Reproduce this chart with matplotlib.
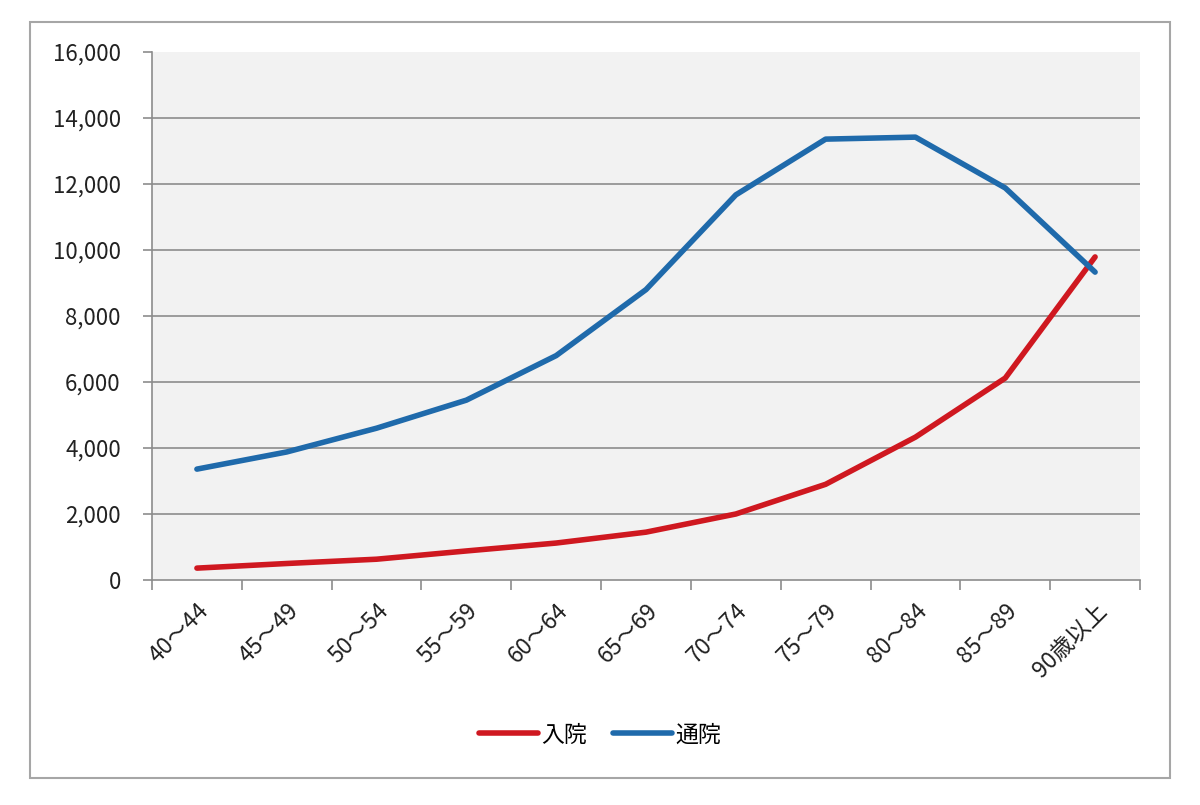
import matplotlib
matplotlib.use("Agg")
import matplotlib.pyplot as plt
from matplotlib.patches import Rectangle
from matplotlib.ticker import FuncFormatter, FixedLocator

plt.rcParams['font.family'] = ['Noto Sans CJK JP', 'DejaVu Sans']

categories = ["40～44", "45～49", "50～54", "55～59", "60～64", "65～69",
              "70～74", "75～79", "80～84", "85～89", "90歳以上"]
nyuin = [360, 500, 630, 880, 1120, 1450, 2000, 2900, 4330, 6120, 9790]
tsuin = [3360, 3880, 4600, 5450, 6800, 8800, 11670, 13360, 13420, 11880, 9330]
series_names = ["入院", "通院"]
yticks = list(range(0, 16001, 2000))

fig = plt.figure(figsize=(12, 8.05), dpi=100)
fig.patches.append(Rectangle((30/1200, 1-778/805), 1140/1200, 756/805,
                             transform=fig.transFigure, fill=False,
                             edgecolor='#a6a6a6', linewidth=1.5))
ax = fig.add_axes([152/1200, 1-580/805, 988/1200, 528/805])
ax.set_facecolor('#f2f2f2')

x = list(range(len(categories)))
ax.plot(x, nyuin, color='#cf1820', linewidth=4, label=series_names[0], solid_capstyle='round')
ax.plot(x, tsuin, color='#1f6aab', linewidth=4, label=series_names[1], solid_capstyle='round')

ax.set_xlim(-0.5, len(categories) - 0.5)
ax.set_ylim(0, 16000)

for v in yticks[1:-1]:
    ax.axhline(v, color='#8c8c8c', linewidth=1.2, zorder=0.5)

ax.yaxis.set_major_locator(FixedLocator(yticks))
ax.yaxis.set_major_formatter(FuncFormatter(lambda v, p: f"{int(v):,}"))
ax.tick_params(axis='y', length=6.5, width=1.2, color='#8c8c8c', labelsize=16, pad=16, labelcolor='#222222')

ax.set_xticks([i - 0.5 for i in range(len(categories) + 1)])
ax.set_xticklabels([])
ax.set_xticks(x, minor=True)
ax.set_xticklabels(categories, minor=True, rotation=45, ha='right', va='top',
                   rotation_mode='anchor', fontsize=16.5, color='#222222')
ax.tick_params(axis='x', which='major', length=7, width=1.2, color='#8c8c8c', direction='out')
ax.tick_params(axis='x', which='minor', length=0, pad=14)

for s in ['top', 'right']:
    ax.spines[s].set_visible(False)
for s in ['left', 'bottom']:
    ax.spines[s].set_color('#8c8c8c')
    ax.spines[s].set_linewidth(1.2)

leg = fig.legend(loc='center', bbox_to_anchor=(600/1200, 1-735/805), ncol=2,
                 frameon=False, fontsize=16.5, handlelength=2.6, handletextpad=0.15,
                 columnspacing=1.1)

fig.savefig('out.png', dpi=100)
